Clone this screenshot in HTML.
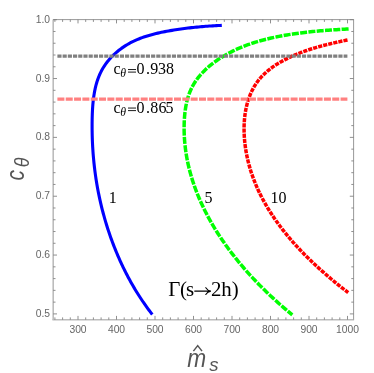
<!DOCTYPE html>
<html><head><meta charset="utf-8"><title>plot</title>
<style>
html,body{margin:0;padding:0;background:#fff;}
body{width:374px;height:373px;overflow:hidden;font-family:"Liberation Sans",sans-serif;}
svg{will-change:transform;display:block;position:absolute;left:0;top:0;}
.tl text{font-family:"Liberation Sans",sans-serif;font-size:10.3px;fill:#666;}
.ser{font-family:"Liberation Serif",serif;fill:#000;}
.ax{font-family:"Liberation Sans",sans-serif;font-style:italic;fill:#555;}
</style></head><body>
<svg width="374" height="373" viewBox="0 0 374 373">
<rect x="0" y="0" width="374" height="373" fill="#fff"/>
<!-- frame -->
<g fill="none" stroke="#aaa" stroke-width="1">
<line x1="53.2" y1="19.6" x2="53.2" y2="319.7" stroke-width="1.6" stroke="#bcbcbc"/>
<line x1="52.400000000000006" y1="319.7" x2="354.1" y2="319.7" stroke-width="1.6" stroke="#bcbcbc"/>
<line x1="53.2" y1="19.6" x2="353.6" y2="19.6" stroke="#999"/>
<line x1="353.6" y1="19.1" x2="353.6" y2="319.7" stroke="#999"/>
</g>
<g stroke="#7c7c7c" stroke-width="0.85" fill="none"><line x1="54.90" y1="319.7" x2="54.90" y2="317.40"/><line x1="54.90" y1="19.6" x2="54.90" y2="21.90"/><line x1="62.60" y1="319.7" x2="62.60" y2="317.40"/><line x1="62.60" y1="19.6" x2="62.60" y2="21.90"/><line x1="70.30" y1="319.7" x2="70.30" y2="317.40"/><line x1="70.30" y1="19.6" x2="70.30" y2="21.90"/><line x1="78.00" y1="319.7" x2="78.00" y2="315.90"/><line x1="78.00" y1="19.6" x2="78.00" y2="23.40"/><line x1="85.70" y1="319.7" x2="85.70" y2="317.40"/><line x1="85.70" y1="19.6" x2="85.70" y2="21.90"/><line x1="93.40" y1="319.7" x2="93.40" y2="317.40"/><line x1="93.40" y1="19.6" x2="93.40" y2="21.90"/><line x1="101.10" y1="319.7" x2="101.10" y2="317.40"/><line x1="101.10" y1="19.6" x2="101.10" y2="21.90"/><line x1="108.80" y1="319.7" x2="108.80" y2="317.40"/><line x1="108.80" y1="19.6" x2="108.80" y2="21.90"/><line x1="116.50" y1="319.7" x2="116.50" y2="315.90"/><line x1="116.50" y1="19.6" x2="116.50" y2="23.40"/><line x1="124.20" y1="319.7" x2="124.20" y2="317.40"/><line x1="124.20" y1="19.6" x2="124.20" y2="21.90"/><line x1="131.90" y1="319.7" x2="131.90" y2="317.40"/><line x1="131.90" y1="19.6" x2="131.90" y2="21.90"/><line x1="139.60" y1="319.7" x2="139.60" y2="317.40"/><line x1="139.60" y1="19.6" x2="139.60" y2="21.90"/><line x1="147.30" y1="319.7" x2="147.30" y2="317.40"/><line x1="147.30" y1="19.6" x2="147.30" y2="21.90"/><line x1="155.00" y1="319.7" x2="155.00" y2="315.90"/><line x1="155.00" y1="19.6" x2="155.00" y2="23.40"/><line x1="162.70" y1="319.7" x2="162.70" y2="317.40"/><line x1="162.70" y1="19.6" x2="162.70" y2="21.90"/><line x1="170.40" y1="319.7" x2="170.40" y2="317.40"/><line x1="170.40" y1="19.6" x2="170.40" y2="21.90"/><line x1="178.10" y1="319.7" x2="178.10" y2="317.40"/><line x1="178.10" y1="19.6" x2="178.10" y2="21.90"/><line x1="185.80" y1="319.7" x2="185.80" y2="317.40"/><line x1="185.80" y1="19.6" x2="185.80" y2="21.90"/><line x1="193.50" y1="319.7" x2="193.50" y2="315.90"/><line x1="193.50" y1="19.6" x2="193.50" y2="23.40"/><line x1="201.20" y1="319.7" x2="201.20" y2="317.40"/><line x1="201.20" y1="19.6" x2="201.20" y2="21.90"/><line x1="208.90" y1="319.7" x2="208.90" y2="317.40"/><line x1="208.90" y1="19.6" x2="208.90" y2="21.90"/><line x1="216.60" y1="319.7" x2="216.60" y2="317.40"/><line x1="216.60" y1="19.6" x2="216.60" y2="21.90"/><line x1="224.30" y1="319.7" x2="224.30" y2="317.40"/><line x1="224.30" y1="19.6" x2="224.30" y2="21.90"/><line x1="232.00" y1="319.7" x2="232.00" y2="315.90"/><line x1="232.00" y1="19.6" x2="232.00" y2="23.40"/><line x1="239.70" y1="319.7" x2="239.70" y2="317.40"/><line x1="239.70" y1="19.6" x2="239.70" y2="21.90"/><line x1="247.40" y1="319.7" x2="247.40" y2="317.40"/><line x1="247.40" y1="19.6" x2="247.40" y2="21.90"/><line x1="255.10" y1="319.7" x2="255.10" y2="317.40"/><line x1="255.10" y1="19.6" x2="255.10" y2="21.90"/><line x1="262.80" y1="319.7" x2="262.80" y2="317.40"/><line x1="262.80" y1="19.6" x2="262.80" y2="21.90"/><line x1="270.50" y1="319.7" x2="270.50" y2="315.90"/><line x1="270.50" y1="19.6" x2="270.50" y2="23.40"/><line x1="278.20" y1="319.7" x2="278.20" y2="317.40"/><line x1="278.20" y1="19.6" x2="278.20" y2="21.90"/><line x1="285.90" y1="319.7" x2="285.90" y2="317.40"/><line x1="285.90" y1="19.6" x2="285.90" y2="21.90"/><line x1="293.60" y1="319.7" x2="293.60" y2="317.40"/><line x1="293.60" y1="19.6" x2="293.60" y2="21.90"/><line x1="301.30" y1="319.7" x2="301.30" y2="317.40"/><line x1="301.30" y1="19.6" x2="301.30" y2="21.90"/><line x1="309.00" y1="319.7" x2="309.00" y2="315.90"/><line x1="309.00" y1="19.6" x2="309.00" y2="23.40"/><line x1="316.70" y1="319.7" x2="316.70" y2="317.40"/><line x1="316.70" y1="19.6" x2="316.70" y2="21.90"/><line x1="324.40" y1="319.7" x2="324.40" y2="317.40"/><line x1="324.40" y1="19.6" x2="324.40" y2="21.90"/><line x1="332.10" y1="319.7" x2="332.10" y2="317.40"/><line x1="332.10" y1="19.6" x2="332.10" y2="21.90"/><line x1="339.80" y1="319.7" x2="339.80" y2="317.40"/><line x1="339.80" y1="19.6" x2="339.80" y2="21.90"/><line x1="347.50" y1="319.7" x2="347.50" y2="315.90"/><line x1="347.50" y1="19.6" x2="347.50" y2="23.40"/><line x1="53.2" y1="313.90" x2="57.00" y2="313.90"/><line x1="353.6" y1="313.90" x2="349.80" y2="313.90"/><line x1="53.2" y1="302.13" x2="55.50" y2="302.13"/><line x1="353.6" y1="302.13" x2="351.30" y2="302.13"/><line x1="53.2" y1="290.36" x2="55.50" y2="290.36"/><line x1="353.6" y1="290.36" x2="351.30" y2="290.36"/><line x1="53.2" y1="278.60" x2="55.50" y2="278.60"/><line x1="353.6" y1="278.60" x2="351.30" y2="278.60"/><line x1="53.2" y1="266.83" x2="55.50" y2="266.83"/><line x1="353.6" y1="266.83" x2="351.30" y2="266.83"/><line x1="53.2" y1="255.06" x2="57.00" y2="255.06"/><line x1="353.6" y1="255.06" x2="349.80" y2="255.06"/><line x1="53.2" y1="243.29" x2="55.50" y2="243.29"/><line x1="353.6" y1="243.29" x2="351.30" y2="243.29"/><line x1="53.2" y1="231.52" x2="55.50" y2="231.52"/><line x1="353.6" y1="231.52" x2="351.30" y2="231.52"/><line x1="53.2" y1="219.76" x2="55.50" y2="219.76"/><line x1="353.6" y1="219.76" x2="351.30" y2="219.76"/><line x1="53.2" y1="207.99" x2="55.50" y2="207.99"/><line x1="353.6" y1="207.99" x2="351.30" y2="207.99"/><line x1="53.2" y1="196.22" x2="57.00" y2="196.22"/><line x1="353.6" y1="196.22" x2="349.80" y2="196.22"/><line x1="53.2" y1="184.45" x2="55.50" y2="184.45"/><line x1="353.6" y1="184.45" x2="351.30" y2="184.45"/><line x1="53.2" y1="172.68" x2="55.50" y2="172.68"/><line x1="353.6" y1="172.68" x2="351.30" y2="172.68"/><line x1="53.2" y1="160.92" x2="55.50" y2="160.92"/><line x1="353.6" y1="160.92" x2="351.30" y2="160.92"/><line x1="53.2" y1="149.15" x2="55.50" y2="149.15"/><line x1="353.6" y1="149.15" x2="351.30" y2="149.15"/><line x1="53.2" y1="137.38" x2="57.00" y2="137.38"/><line x1="353.6" y1="137.38" x2="349.80" y2="137.38"/><line x1="53.2" y1="125.61" x2="55.50" y2="125.61"/><line x1="353.6" y1="125.61" x2="351.30" y2="125.61"/><line x1="53.2" y1="113.84" x2="55.50" y2="113.84"/><line x1="353.6" y1="113.84" x2="351.30" y2="113.84"/><line x1="53.2" y1="102.08" x2="55.50" y2="102.08"/><line x1="353.6" y1="102.08" x2="351.30" y2="102.08"/><line x1="53.2" y1="90.31" x2="55.50" y2="90.31"/><line x1="353.6" y1="90.31" x2="351.30" y2="90.31"/><line x1="53.2" y1="78.54" x2="57.00" y2="78.54"/><line x1="353.6" y1="78.54" x2="349.80" y2="78.54"/><line x1="53.2" y1="66.77" x2="55.50" y2="66.77"/><line x1="353.6" y1="66.77" x2="351.30" y2="66.77"/><line x1="53.2" y1="55.00" x2="55.50" y2="55.00"/><line x1="353.6" y1="55.00" x2="351.30" y2="55.00"/><line x1="53.2" y1="43.24" x2="55.50" y2="43.24"/><line x1="353.6" y1="43.24" x2="351.30" y2="43.24"/><line x1="53.2" y1="31.47" x2="55.50" y2="31.47"/><line x1="353.6" y1="31.47" x2="351.30" y2="31.47"/><line x1="53.2" y1="19.70" x2="57.00" y2="19.70"/><line x1="353.6" y1="19.70" x2="349.80" y2="19.70"/></g>
<g class="tl"><text x="78.00" y="332.7" text-anchor="middle">300</text><text x="116.50" y="332.7" text-anchor="middle">400</text><text x="155.00" y="332.7" text-anchor="middle">500</text><text x="193.50" y="332.7" text-anchor="middle">600</text><text x="232.00" y="332.7" text-anchor="middle">700</text><text x="270.50" y="332.7" text-anchor="middle">800</text><text x="309.00" y="332.7" text-anchor="middle">900</text><text x="347.50" y="332.7" text-anchor="middle">1000</text><text x="50.0" y="316.90" text-anchor="end">0.5</text><text x="50.0" y="258.06" text-anchor="end">0.6</text><text x="50.0" y="199.22" text-anchor="end">0.7</text><text x="50.0" y="140.38" text-anchor="end">0.8</text><text x="50.0" y="81.54" text-anchor="end">0.9</text><text x="50.0" y="22.70" text-anchor="end">1.0</text></g>
<!-- contours -->
<path d="M221.80,25.40 L219.99,25.48 L218.19,25.56 L216.39,25.65 L214.59,25.74 L212.80,25.84 L211.01,25.95 L209.23,26.07 L207.45,26.19 L205.67,26.32 L203.90,26.46 L202.12,26.61 L200.35,26.76 L198.58,26.92 L196.82,27.09 L195.05,27.27 L193.28,27.45 L191.52,27.64 L189.75,27.85 L187.99,28.06 L186.22,28.27 L184.46,28.50 L182.69,28.74 L180.92,28.98 L179.15,29.24 L177.38,29.50 L175.61,29.77 L173.83,30.05 L172.06,30.35 L170.28,30.65 L168.50,30.96 L166.71,31.28 L164.93,31.62 L163.14,31.97 L161.36,32.34 L159.58,32.72 L157.81,33.12 L156.04,33.53 L154.27,33.97 L152.51,34.42 L150.75,34.90 L149.01,35.40 L147.27,35.93 L145.54,36.48 L143.83,37.05 L142.12,37.65 L140.43,38.28 L138.75,38.94 L137.09,39.63 L135.44,40.35 L133.80,41.11 L132.19,41.89 L130.59,42.72 L129.01,43.57 L127.45,44.47 L125.91,45.39 L124.40,46.36 L122.91,47.36 L121.44,48.39 L120.00,49.45 L118.59,50.55 L117.21,51.68 L115.85,52.84 L114.53,54.03 L113.24,55.25 L111.99,56.50 L110.77,57.78 L109.59,59.09 L108.45,60.43 L107.35,61.80 L106.28,63.19 L105.26,64.61 L104.29,66.06 L103.35,67.53 L102.47,69.02 L101.63,70.54 L100.84,72.09 L100.09,73.66 L99.38,75.24 L98.72,76.85 L98.10,78.48 L97.52,80.13 L96.98,81.80 L96.48,83.48 L96.01,85.18 L95.57,86.90 L95.17,88.63 L94.81,90.37 L94.47,92.13 L94.16,93.90 L93.88,95.68 L93.62,97.47 L93.39,99.26 L93.19,101.07 L93.01,102.88 L92.85,104.70 L92.70,106.53 L92.58,108.36 L92.48,110.19 L92.39,112.02 L92.31,113.86 L92.25,115.69 L92.20,117.53 L92.16,119.37 L92.13,121.20 L92.11,123.03 L92.10,124.86 L92.10,126.69 L92.11,128.51 L92.12,130.33 L92.15,132.15 L92.18,133.97 L92.22,135.78 L92.27,137.59 L92.33,139.40 L92.40,141.21 L92.48,143.02 L92.57,144.82 L92.66,146.62 L92.77,148.42 L92.89,150.21 L93.01,152.01 L93.14,153.80 L93.28,155.59 L93.44,157.38 L93.60,159.16 L93.77,160.94 L93.95,162.72 L94.14,164.50 L94.33,166.28 L94.54,168.05 L94.76,169.83 L94.98,171.60 L95.22,173.36 L95.46,175.13 L95.72,176.89 L95.98,178.66 L96.26,180.42 L96.54,182.17 L96.83,183.93 L97.13,185.68 L97.44,187.44 L97.76,189.19 L98.09,190.93 L98.43,192.68 L98.78,194.42 L99.14,196.17 L99.51,197.91 L99.89,199.65 L100.28,201.38 L100.68,203.12 L101.09,204.85 L101.50,206.58 L101.93,208.31 L102.37,210.04 L102.82,211.76 L103.27,213.49 L103.74,215.21 L104.22,216.93 L104.70,218.65 L105.20,220.36 L105.71,222.08 L106.22,223.79 L106.75,225.50 L107.29,227.21 L107.83,228.92 L108.39,230.62 L108.96,232.33 L109.53,234.03 L110.12,235.72 L110.71,237.42 L111.32,239.11 L111.94,240.79 L112.56,242.48 L113.20,244.16 L113.85,245.84 L114.50,247.51 L115.17,249.18 L115.85,250.85 L116.53,252.51 L117.23,254.17 L117.93,255.83 L118.65,257.48 L119.38,259.12 L120.12,260.77 L120.86,262.40 L121.62,264.04 L122.39,265.66 L123.16,267.29 L123.95,268.90 L124.75,270.52 L125.56,272.12 L126.37,273.73 L127.20,275.32 L128.04,276.91 L128.89,278.50 L129.75,280.08 L130.61,281.65 L131.49,283.22 L132.38,284.78 L133.28,286.33 L134.19,287.88 L135.11,289.42 L136.04,290.96 L136.98,292.48 L137.93,294.00 L138.89,295.52 L139.86,297.02 L140.84,298.52 L141.83,300.01 L142.83,301.50 L143.84,302.98 L144.86,304.44 L145.90,305.91 L146.94,307.36 L147.99,308.80 L149.05,310.24 L150.12,311.67 L151.21,313.09 L152.30,314.50" fill="none" stroke="#0000ff" stroke-width="3.1" stroke-linejoin="round"/>
<path d="M348.60,28.90 L346.59,29.02 L344.58,29.14 L342.57,29.26 L340.56,29.38 L338.56,29.51 L336.55,29.64 L334.55,29.78 L332.55,29.91 L330.55,30.06 L328.55,30.20 L326.55,30.35 L324.55,30.51 L322.56,30.67 L320.56,30.84 L318.57,31.01 L316.58,31.19 L314.59,31.38 L312.60,31.58 L310.61,31.78 L308.63,31.99 L306.64,32.21 L304.66,32.44 L302.67,32.68 L300.69,32.92 L298.71,33.18 L296.73,33.45 L294.76,33.73 L292.78,34.02 L290.80,34.32 L288.83,34.63 L286.86,34.96 L284.89,35.29 L282.92,35.64 L280.95,36.01 L278.98,36.39 L277.01,36.78 L275.05,37.18 L273.09,37.60 L271.13,38.04 L269.17,38.49 L267.22,38.96 L265.27,39.45 L263.32,39.95 L261.39,40.48 L259.45,41.02 L257.52,41.58 L255.60,42.16 L253.69,42.77 L251.78,43.39 L249.88,44.04 L247.98,44.71 L246.10,45.40 L244.22,46.11 L242.36,46.85 L240.50,47.61 L238.65,48.40 L236.82,49.22 L234.99,50.06 L233.18,50.93 L231.38,51.82 L229.59,52.75 L227.81,53.70 L226.05,54.68 L224.30,55.69 L222.56,56.73 L220.84,57.80 L219.13,58.90 L217.45,60.04 L215.78,61.20 L214.14,62.40 L212.52,63.63 L210.93,64.88 L209.36,66.18 L207.83,67.50 L206.34,68.85 L204.88,70.24 L203.45,71.66 L202.07,73.10 L200.73,74.59 L199.44,76.10 L198.19,77.65 L197.00,79.22 L195.85,80.83 L194.76,82.48 L193.73,84.15 L192.75,85.86 L191.84,87.60 L190.99,89.37 L190.20,91.18 L189.46,93.01 L188.79,94.87 L188.17,96.75 L187.60,98.66 L187.08,100.59 L186.62,102.53 L186.20,104.50 L185.82,106.48 L185.49,108.47 L185.20,110.47 L184.95,112.48 L184.73,114.50 L184.55,116.53 L184.41,118.56 L184.29,120.59 L184.21,122.61 L184.15,124.64 L184.12,126.66 L184.11,128.68 L184.13,130.70 L184.18,132.71 L184.25,134.72 L184.34,136.72 L184.46,138.72 L184.60,140.71 L184.77,142.70 L184.96,144.69 L185.18,146.67 L185.42,148.65 L185.68,150.62 L185.97,152.59 L186.27,154.55 L186.60,156.51 L186.96,158.46 L187.33,160.41 L187.73,162.35 L188.15,164.29 L188.59,166.22 L189.05,168.15 L189.53,170.07 L190.04,171.99 L190.56,173.90 L191.11,175.81 L191.67,177.71 L192.26,179.61 L192.86,181.50 L193.49,183.39 L194.13,185.27 L194.80,187.14 L195.48,189.01 L196.18,190.87 L196.90,192.73 L197.64,194.58 L198.39,196.42 L199.17,198.26 L199.96,200.10 L200.77,201.92 L201.60,203.74 L202.44,205.56 L203.30,207.37 L204.18,209.17 L205.07,210.96 L205.98,212.75 L206.90,214.53 L207.84,216.31 L208.80,218.08 L209.77,219.84 L210.76,221.60 L211.76,223.34 L212.77,225.09 L213.81,226.82 L214.85,228.55 L215.91,230.27 L216.98,231.98 L218.07,233.69 L219.17,235.39 L220.28,237.08 L221.40,238.77 L222.54,240.44 L223.69,242.11 L224.85,243.77 L226.03,245.43 L227.21,247.08 L228.41,248.71 L229.62,250.35 L230.84,251.97 L232.07,253.59 L233.32,255.19 L234.57,256.79 L235.83,258.39 L237.10,259.97 L238.39,261.54 L239.68,263.11 L240.98,264.67 L242.29,266.22 L243.61,267.76 L244.94,269.30 L246.28,270.82 L247.63,272.34 L248.98,273.85 L250.34,275.35 L251.71,276.84 L253.09,278.32 L254.47,279.79 L255.86,281.26 L257.26,282.71 L258.67,284.16 L260.08,285.60 L261.49,287.03 L262.92,288.44 L264.35,289.85 L265.78,291.25 L267.22,292.64 L268.66,294.03 L270.11,295.40 L271.57,296.76 L273.03,298.11 L274.49,299.46 L275.96,300.79 L277.43,302.11 L278.90,303.43 L280.38,304.73 L281.86,306.03 L283.35,307.31 L284.83,308.58 L286.32,309.85 L287.81,311.10 L289.31,312.34 L290.80,313.58 L292.30,314.80" fill="none" stroke="#00ff00" stroke-width="3.5" stroke-dasharray="7.0 1.33" stroke-linejoin="round"/>
<path d="M347.50,40.00 L345.96,40.32 L344.41,40.65 L342.87,40.97 L341.32,41.30 L339.78,41.64 L338.23,41.97 L336.68,42.31 L335.13,42.66 L333.59,43.01 L332.04,43.37 L330.49,43.73 L328.94,44.10 L327.39,44.48 L325.84,44.87 L324.29,45.26 L322.74,45.66 L321.19,46.07 L319.65,46.49 L318.10,46.93 L316.55,47.37 L315.01,47.82 L313.46,48.28 L311.92,48.76 L310.38,49.24 L308.84,49.74 L307.30,50.26 L305.76,50.78 L304.23,51.32 L302.70,51.88 L301.17,52.45 L299.64,53.04 L298.11,53.64 L296.59,54.26 L295.07,54.89 L293.55,55.55 L292.03,56.22 L290.52,56.91 L289.02,57.61 L287.52,58.34 L286.03,59.08 L284.55,59.85 L283.08,60.63 L281.63,61.43 L280.19,62.25 L278.76,63.10 L277.35,63.96 L275.96,64.84 L274.59,65.75 L273.24,66.67 L271.91,67.62 L270.60,68.59 L269.32,69.58 L268.06,70.59 L266.84,71.63 L265.64,72.69 L264.47,73.77 L263.33,74.88 L262.22,76.01 L261.15,77.16 L260.12,78.34 L259.12,79.54 L258.15,80.76 L257.23,82.01 L256.33,83.28 L255.48,84.57 L254.66,85.89 L253.87,87.22 L253.11,88.57 L252.39,89.95 L251.71,91.34 L251.05,92.75 L250.43,94.17 L249.84,95.62 L249.28,97.08 L248.75,98.55 L248.26,100.04 L247.79,101.54 L247.35,103.06 L246.94,104.59 L246.57,106.13 L246.22,107.68 L245.89,109.24 L245.60,110.81 L245.33,112.39 L245.09,113.98 L244.88,115.58 L244.69,117.18 L244.53,118.79 L244.39,120.41 L244.28,122.03 L244.19,123.66 L244.13,125.29 L244.09,126.92 L244.07,128.56 L244.08,130.20 L244.11,131.84 L244.16,133.48 L244.23,135.12 L244.32,136.76 L244.44,138.39 L244.57,140.03 L244.72,141.66 L244.90,143.29 L245.09,144.92 L245.30,146.54 L245.53,148.15 L245.78,149.76 L246.04,151.37 L246.33,152.96 L246.63,154.56 L246.94,156.14 L247.28,157.72 L247.63,159.29 L248.00,160.86 L248.38,162.42 L248.78,163.98 L249.20,165.53 L249.63,167.07 L250.08,168.61 L250.55,170.14 L251.03,171.66 L251.52,173.18 L252.04,174.69 L252.56,176.20 L253.10,177.70 L253.66,179.20 L254.23,180.69 L254.82,182.17 L255.42,183.65 L256.03,185.12 L256.66,186.58 L257.30,188.04 L257.95,189.50 L258.62,190.94 L259.31,192.39 L260.00,193.82 L260.71,195.25 L261.43,196.67 L262.17,198.09 L262.91,199.50 L263.67,200.91 L264.44,202.31 L265.23,203.70 L266.02,205.09 L266.83,206.47 L267.65,207.85 L268.48,209.22 L269.32,210.58 L270.18,211.94 L271.04,213.30 L271.92,214.64 L272.80,215.98 L273.70,217.32 L274.61,218.65 L275.52,219.97 L276.45,221.29 L277.39,222.60 L278.33,223.90 L279.29,225.20 L280.26,226.50 L281.23,227.79 L282.21,229.07 L283.21,230.34 L284.21,231.61 L285.22,232.88 L286.24,234.14 L287.27,235.39 L288.30,236.64 L289.34,237.88 L290.40,239.12 L291.45,240.34 L292.52,241.57 L293.59,242.79 L294.68,244.00 L295.76,245.21 L296.86,246.41 L297.96,247.60 L299.07,248.79 L300.18,249.97 L301.30,251.15 L302.43,252.32 L303.56,253.49 L304.70,254.65 L305.85,255.80 L307.00,256.95 L308.15,258.09 L309.31,259.23 L310.48,260.36 L311.65,261.49 L312.82,262.61 L314.00,263.72 L315.18,264.83 L316.37,265.93 L317.56,267.03 L318.76,268.12 L319.96,269.21 L321.16,270.29 L322.37,271.36 L323.58,272.43 L324.79,273.49 L326.00,274.55 L327.22,275.60 L328.44,276.64 L329.67,277.68 L330.89,278.72 L332.12,279.75 L333.35,280.77 L334.58,281.79 L335.81,282.80 L337.05,283.80 L338.28,284.80 L339.52,285.80 L340.76,286.79 L342.00,287.77 L343.24,288.75 L344.48,289.72 L345.72,290.68 L346.96,291.64 L348.20,292.60" fill="none" stroke="#ff0000" stroke-width="3.5" stroke-dasharray="4.15 1.05" stroke-linejoin="round"/>
<!-- horizontal lines -->
<line x1="57.4" y1="56.18" x2="347.4" y2="56.18" stroke="#808080" stroke-width="3.3" stroke-dasharray="4.15 1.0536"/>
<line x1="57.4" y1="99.13" x2="347.4" y2="99.13" stroke="#ff8080" stroke-width="3.3" stroke-dasharray="7.0 1.3286"/>
<!-- labels -->
<g class="ser" font-size="16">
<text x="113.6" y="74.1">c</text><text x="120.2" y="77.0" font-style="italic" font-size="11.8">θ</text><path d="M128.0,69.55 H136.0 M128.0,72.10 H136.0" stroke="#000" stroke-width="0.9" fill="none"/><text x="136.54 146.0 150.3 158.0 166.1" y="74.1">0.938</text>
<text x="113.6" y="112.6">c</text><text x="120.2" y="115.5" font-style="italic" font-size="11.8">θ</text><path d="M128.0,108.05 H136.0 M128.0,110.60 H136.0" stroke="#000" stroke-width="0.9" fill="none"/><text x="136.54 146.0 150.3 158.4 165.6" y="112.6">0.865</text>
<text x="108.7" y="203.2">1</text>
<text x="204.6" y="202.8">5</text>
<text x="270.6" y="202.6">10</text>
</g>
<g class="ser" font-size="20.9">
<text x="168.2" y="295.8">Γ</text><text x="180.1" y="295.8">(</text><text x="186.0" y="295.8">s</text>
<text x="210.9" y="295.8">2h)</text>
</g>
<path d="M194.7,291.1 H210.2 M205.8,287.7 Q207.4,290.4 210.8,291.1 Q207.4,291.8 205.8,294.5" fill="none" stroke="#000" stroke-width="1.1" stroke-linecap="round"/>
<!-- axis labels -->
<g class="ax">
<g transform="translate(23.6,180.6) rotate(-90)"><text x="0" y="0" font-size="25" transform="scale(0.84,1)">c</text><text x="0" y="0" font-size="21" transform="translate(13.3,5.4) scale(0.84,1)">θ</text></g>
<text x="0" y="0" font-size="25" transform="translate(187.2,366.6) scale(0.91,1)">m</text>
<text x="0" y="0" font-size="19" transform="translate(209.2,371.0) scale(0.98,1)">s</text>
</g>
<path d="M193.4,351.1 L197.7,345.6 L202,351.1" fill="none" stroke="#555" stroke-width="1.5"/>
</svg>
</body></html>
